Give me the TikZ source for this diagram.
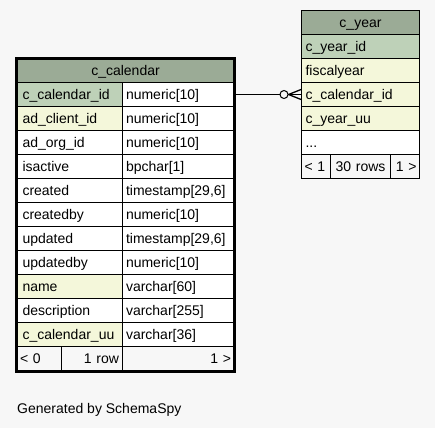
\documentclass[tikz,border=0pt]{standalone}
\usepackage{fontspec}
\setmainfont{Liberation Sans}
\usetikzlibrary{calc}
\definecolor{BG}{RGB}{247,247,247}
\definecolor{HD}{RGB}{155,171,150}
\definecolor{PK}{RGB}{190,209,184}
\definecolor{IX}{RGB}{244,247,218}

\begin{document}
\begin{tikzpicture}[x=1pt, y=-1pt,
    cell/.style={draw=black, line width=1pt, anchor=north west, minimum height=24pt,
                 inner ysep=0pt, text height=10pt, text depth=0pt,
                 font=\fontsize{14}{16}\selectfont},
    headcell/.style={cell, fill=HD, align=center},
    namecol/.style={cell, fill=white, text width=94pt, inner xsep=5.5pt, align=left},
    typecol/.style={cell, fill=white, text width=104pt, inner xsep=4pt, align=left},
    yearcol/.style={cell, fill=white, text width=110pt, inner xsep=4pt, align=left},
    footcell/.style={cell, fill=BG, inner xsep=3pt}]

    \fill[BG] (0,0) rectangle (435,428);
    \useasboundingbox (0,0) rectangle (435,428);

    %% --- c_calendar ---
    \node[headcell, minimum width=217pt] (cal-head) at (16.5,58) {c\_calendar};

    \node[namecol, fill=PK] (cal-id)     at (16.5,82)  {c\_calendar\_id};
    \node[typecol] (cal-id-type)         at (121.5,82) {numeric[10]};
    \node[namecol, fill=IX] (cal-client) at (16.5,106)  {ad\_client\_id};
    \node[typecol] (cal-client-type)     at (121.5,106) {numeric[10]};
    \node[namecol] (cal-org)             at (16.5,130)  {ad\_org\_id};
    \node[typecol] (cal-org-type)        at (121.5,130) {numeric[10]};
    \node[namecol] (cal-active)          at (16.5,154)  {isactive};
    \node[typecol] (cal-active-type)     at (121.5,154) {bpchar[1]};
    \node[namecol] (cal-created)         at (16.5,178)  {created};
    \node[typecol] (cal-created-type)    at (121.5,178) {timestamp[29,6]};
    \node[namecol] (cal-createdby)       at (16.5,202)  {createdby};
    \node[typecol] (cal-createdby-type)  at (121.5,202) {numeric[10]};
    \node[namecol] (cal-updated)         at (16.5,226)  {updated};
    \node[typecol] (cal-updated-type)    at (121.5,226) {timestamp[29,6]};
    \node[namecol] (cal-updatedby)       at (16.5,250)  {updatedby};
    \node[typecol] (cal-updatedby-type)  at (121.5,250) {numeric[10]};
    \node[namecol, fill=IX] (cal-name)   at (16.5,274)  {name};
    \node[typecol] (cal-name-type)       at (121.5,274) {varchar[60]};
    \node[namecol] (cal-descr)           at (16.5,298)  {description};
    \node[typecol] (cal-descr-type)      at (121.5,298) {varchar[255]};
    \node[namecol, fill=IX] (cal-uu)     at (16.5,322)  {c\_calendar\_uu};
    \node[typecol] (cal-uu-type)         at (121.5,322) {varchar[36]};

    %% footer
    \node[footcell, text width=38.5pt, align=left] (cal-foot-l) at (16.5,346) {< 0};
    \node[footcell, text width=54.5pt, align=right] (cal-foot-m) at (61,346) {1 row};
    \node[footcell, text width=106pt, align=right] (cal-foot-r) at (121.5,346) {1 >};

    %% thick frame
    \draw[line width=3pt] (cal-head.north west) rectangle (cal-foot-r.south east);

    %% --- c_year ---
    \node[headcell, minimum width=118pt] (year-head) at (301,10) {c\_year};
    \node[yearcol, fill=PK] (year-id)  at (301,34)  {c\_year\_id};
    \node[yearcol, fill=IX] (year-fy)  at (301,58)  {fiscalyear};
    \node[yearcol, fill=IX] (year-cal) at (301,82)  {c\_calendar\_id};
    \node[yearcol, fill=IX] (year-uu)  at (301,106) {c\_year\_uu};
    \node[yearcol] (year-more)         at (301,130) {...};
    \node[footcell, text width=23pt, align=left] (year-foot-l) at (301,154) {< 1};
    \node[footcell, text width=54pt, align=center] (year-foot-m) at (330,154) {30 rows};
    \node[footcell, text width=23pt, align=right] (year-foot-r) at (390,154) {1 >};

    %% --- relation ---
    \draw[line width=1pt] (cal-id-type.east) -- (year-cal.west);
    \draw[line width=1pt, fill=BG] ($(year-cal.west)+(-17,0)$) circle (4pt);
    \draw[line width=1.3pt] ($(year-cal.west)+(-12.5,0)$) -- ($(year-cal.west)+(0,-5)$);
    \draw[line width=1.3pt] ($(year-cal.west)+(-12.5,0)$) -- ($(year-cal.west)+(0,5)$);

    \node[anchor=base west, inner sep=0pt, font=\fontsize{14}{16}\selectfont] (gen) at (17,413) {Generated by SchemaSpy};

\end{tikzpicture}
\end{document}
